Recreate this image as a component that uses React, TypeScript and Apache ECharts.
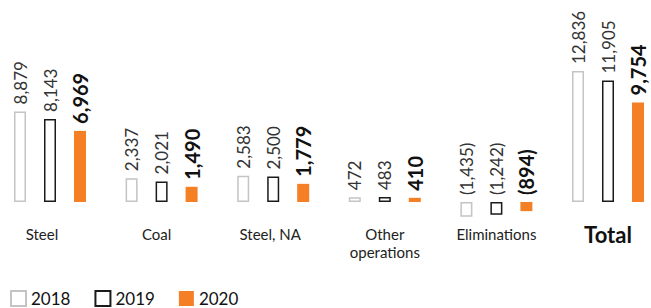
import React, { useEffect, useRef } from "react";
import * as echarts from "echarts";

const categories = ["Steel", "Coal", "Steel, NA", "Other\noperations", "Eliminations", "Total"];
const years = ["2018", "2019", "2020"];
const values2018 = [8879, 2337, 2583, 472, -1435, 12836];
const values2019 = [8143, 2021, 2500, 483, -1242, 11905];
const values2020 = [6969, 1490, 1779, 410, -894, 9754];

const FONT = "Lato, 'Noto Sans', sans-serif";

const fmt = (v: number) => {
  const s = Math.abs(v).toLocaleString("en-US");
  return v < 0 ? `(${s})` : s;
};

const labelStyleKey: Record<string, string> = {
  Steel: "s16",
  Coal: "s10",
  "Steel, NA": "s6",
};

export default function App() {
  const ref = useRef<HTMLDivElement>(null);
  useEffect(() => {
    if (!ref.current) return;
    const chart = echarts.init(ref.current, undefined, { renderer: "svg" });
    const baseLabel = {
      show: true,
      position: "top" as const,
      rotate: 90,
      align: "left" as const,
      verticalAlign: "middle" as const,
      distance: 7,
      fontFamily: FONT,
      formatter: (p: any) => fmt(p.value),
    };
    const styles = [
      { color: "#ffffff", borderColor: "#c4c4c4", borderWidth: 1.5 },
      { color: "#ffffff", borderColor: "#1a1a1a", borderWidth: 1.5 },
      { color: "#f47f24", borderColor: "#f47f24", borderWidth: 0 },
    ];
    const data = [values2018, values2019, values2020];
    const cat = { fontSize: 15, color: "#222", fontFamily: FONT, lineHeight: 18 };
    chart.setOption({
      animation: false,
      textStyle: { fontFamily: FONT },
      grid: { left: 50, right: 43, top: 8, height: 215 },
      legend: {
        left: 5,
        top: 285,
        itemWidth: 15,
        itemHeight: 15,
        itemGap: 24,
        icon: "rect",
        textStyle: { fontSize: 17, color: "#111", fontFamily: FONT },
        data: years,
      },
      xAxis: {
        type: "category",
        data: categories,
        boundaryGap: false,
        axisLine: { show: false },
        axisTick: { show: false },
        splitLine: { show: false },
        axisLabel: {
          margin: 2,
          fontSize: 15,
          lineHeight: 18,
          color: "#222",
          fontFamily: FONT,
          interval: 0,
          formatter: (v: string) => {
            if (v === "Total") return "{b|Total}";
            const k = labelStyleKey[v];
            return k ? `{${k}|${v}}` : v;
          },
          rich: {
            b: { fontSize: 22, fontWeight: "bold", color: "#111", fontFamily: FONT, lineHeight: 18 },
            s16: { ...cat, padding: [0, 16, 0, 0] },
            s10: { ...cat, padding: [0, 10, 0, 0] },
            s6: { ...cat, padding: [0, 6, 0, 0] },
          },
        },
      },
      yAxis: {
        type: "value",
        min: -2058,
        max: 19012,
        show: false,
        splitLine: { show: false },
      },
      series: years.map((y, i) => ({
        name: y,
        type: "bar",
        data: data[i],
        barWidth: 12,
        barGap: "150%",
        clip: false,
        itemStyle: styles[i],
        label:
          i === 2
            ? { ...baseLabel, fontSize: 20, fontWeight: "bold", color: "#111" }
            : { ...baseLabel, fontSize: 17, color: "#333" },
      })),
    });
    return () => chart.dispose();
  }, []);
  return (
    <div
      ref={ref}
      style={{ position: "absolute", left: 0, top: 0, width: 651, height: 308 }}
    />
  );
}
